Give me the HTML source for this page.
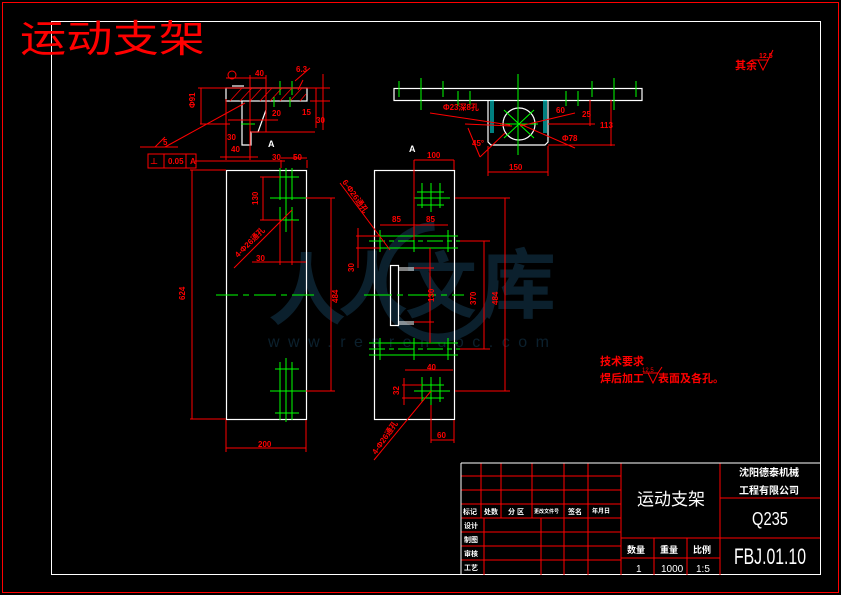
<!DOCTYPE html>
<html><head><meta charset="utf-8"><style>
html,body{margin:0;padding:0;background:#000;}
svg{display:block;}
text{font-family:"Liberation Sans","Noto Sans CJK SC",sans-serif;}
</style></head><body>
<svg width="841" height="595" viewBox="0 0 841 595" xmlns="http://www.w3.org/2000/svg">
<rect width="841" height="595" fill="#000"/>
<!-- watermark -->
<g fill="#17405a" opacity="0.5">
<circle cx="438" cy="282" r="56" fill="none" stroke="#17405a" stroke-width="9" stroke-dasharray="260 90"/>
<text x="268" y="318" font-size="78" font-weight="bold" font-family="'Noto Serif CJK SC',serif">人</text>
<text x="338" y="310" font-size="70" font-weight="bold" font-family="'Noto Serif CJK SC',serif">人</text>
<text x="405" y="312" font-size="72" font-weight="bold" font-family="'Noto Serif CJK SC',serif">文</text>
<text x="480" y="312" font-size="76" font-weight="bold" font-family="'Noto Serif CJK SC',serif">库</text>
<text x="268" y="347" font-size="16" letter-spacing="8.5" font-family="'Liberation Serif',serif">www.renrendoc.com</text>
</g>
<!-- frames -->
<rect x="2.5" y="2.5" width="836" height="590" fill="none" stroke="#f00" stroke-width="1"/>
<rect x="51.5" y="21.5" width="769" height="553" fill="none" stroke="#fff" stroke-width="1"/>
<text x="20" y="52" font-size="38" fill="#f00" font-family="'Noto Sans CJK SC',sans-serif" textLength="185" lengthAdjust="spacingAndGlyphs">运动支架</text>

<!-- title block -->
<g stroke="#f00" stroke-width="1" fill="none">
<line x1="461" y1="476" x2="621" y2="476"/><line x1="461" y1="490" x2="621" y2="490"/>
<line x1="461" y1="504" x2="621" y2="504"/><line x1="461" y1="518" x2="621" y2="518"/>
<line x1="461" y1="532" x2="621" y2="532"/><line x1="461" y1="546" x2="621" y2="546"/>
<line x1="461" y1="560" x2="621" y2="560"/>
<line x1="481" y1="463" x2="481" y2="518"/><line x1="501" y1="463" x2="501" y2="518"/>
<line x1="532" y1="463" x2="532" y2="518"/><line x1="564" y1="463" x2="564" y2="575"/>
<line x1="588" y1="463" x2="588" y2="575"/><line x1="484" y1="518" x2="484" y2="575"/>
<line x1="541" y1="518" x2="541" y2="575"/>
<line x1="621" y1="463" x2="621" y2="575"/><line x1="720" y1="463" x2="720" y2="575"/>
<line x1="720" y1="498" x2="820" y2="498"/><line x1="621" y1="538" x2="820" y2="538"/>
<line x1="621" y1="558" x2="720" y2="558"/>
<line x1="654" y1="538" x2="654" y2="575"/><line x1="687" y1="538" x2="687" y2="575"/>
</g>
<g stroke="#fff" stroke-width="1" fill="none">
<line x1="461" y1="463" x2="820" y2="463"/><line x1="461" y1="463" x2="461" y2="575"/>
</g>
<g fill="#fff" font-size="7" font-weight="bold" font-family="'Noto Sans CJK SC',sans-serif">
<text x="463" y="514">标记</text><text x="484" y="514">处数</text><text x="508" y="514">分 区</text>
<text x="534" y="513" font-size="5">更改文件号</text><text x="568" y="514">签名</text><text x="592" y="513" font-size="6">年月日</text>
<text x="464" y="528">设计</text><text x="464" y="542">制图</text><text x="464" y="556">审核</text><text x="464" y="570">工艺</text>
<text x="627" y="553" font-size="9">数量</text><text x="660" y="553" font-size="9">重量</text><text x="693" y="553" font-size="9">比例</text>
<text x="637" y="505" font-size="17" font-weight="normal">运动支架</text>
<text x="739" y="476" font-size="10">沈阳德泰机械</text>
<text x="739" y="494" font-size="10">工程有限公司</text>
</g>
<g fill="#fff" font-family="'Liberation Serif',serif">
<text x="752" y="525" font-size="18" textLength="36" lengthAdjust="spacingAndGlyphs">Q235</text>
<text x="734" y="564" font-size="22" textLength="72" lengthAdjust="spacingAndGlyphs">FBJ.01.10</text>
<text x="636" y="572" font-size="10">1</text><text x="661" y="572" font-size="10">1000</text><text x="696" y="572" font-size="10">1:5</text>
</g>

<!-- notes -->
<g fill="#f00" font-family="'Noto Sans CJK SC',sans-serif" font-size="11" font-weight="bold">
<text x="600" y="365">技术要求</text>
<text x="600" y="382">焊后加工</text><text x="658" y="382">表面及各孔。</text>
<text x="735" y="69">其余</text>
</g>
<g stroke="#f00" fill="none"><path d="M648 373 l5 10 l5 -10 z M643 373 h10 M658 373 l4 -6"/>
<path d="M758 60 l5 10 l5 -10 z M752 60 h16 M768 60 l5 -10"/></g>
<text x="759" y="58" fill="#f00" font-size="7" font-weight="bold">12.5</text>
<text x="642" y="372" fill="#f00" font-size="6">12.5</text>

<!-- left top section view -->
<g stroke="#fff" fill="none" stroke-width="1.2">
<rect x="226" y="88" width="81" height="13"/>
<path d="M242 101 V145 H251 V132 H258 L266 110 V101"/>
<line x1="232" y1="86" x2="244" y2="86"/>
</g>
<g stroke="#f00" stroke-width="0.8">
<path d="M230 101 l12 -13 M240 101 l12 -13 M250 101 l12 -13 M260 101 l12 -13 M270 101 l12 -13 M280 101 l12 -13 M290 101 l12 -13 M300 101 l6 -7"/>
</g>
<g stroke="#0f0"><line x1="280" y1="81" x2="280" y2="95"/><line x1="292" y1="81" x2="292" y2="95"/><line x1="274" y1="97" x2="274" y2="107"/><line x1="290" y1="97" x2="290" y2="107"/><line x1="241" y1="124" x2="255" y2="124"/></g>
<g stroke="#f00" fill="none" stroke-width="1">
<line x1="198" y1="88" x2="330" y2="88"/><line x1="200" y1="124" x2="230" y2="124"/>
<line x1="201" y1="88" x2="201" y2="124"/><line x1="316" y1="88" x2="316" y2="128"/>
<line x1="323" y1="74" x2="323" y2="130"/><line x1="310" y1="101" x2="330" y2="101"/>
<line x1="226" y1="78" x2="266" y2="78"/><line x1="250" y1="75" x2="250" y2="160"/><line x1="266" y1="75" x2="266" y2="132"/>
<line x1="226" y1="99" x2="226" y2="160"/>
<line x1="228" y1="120" x2="278" y2="120"/><line x1="251" y1="132" x2="315" y2="132"/>
<line x1="220" y1="157" x2="258" y2="157"/><line x1="281" y1="158" x2="307" y2="158"/>
<line x1="195" y1="161" x2="285" y2="161"/><line x1="281" y1="160" x2="281" y2="168"/><line x1="307" y1="160" x2="307" y2="168"/>
<line x1="165" y1="147" x2="245" y2="103"/><line x1="140" y1="147" x2="178" y2="147"/><line x1="155" y1="147" x2="165" y2="137"/>
<line x1="295" y1="81" x2="310" y2="68"/><line x1="303" y1="80" x2="298" y2="90"/>
<rect x="148" y="154" width="48" height="14"/><line x1="164" y1="154" x2="164" y2="168"/><line x1="186" y1="154" x2="186" y2="168"/>
<circle cx="232" cy="75" r="4"/>
</g>
<g fill="#f00" font-size="8" font-weight="bold">
<text x="255" y="76">40</text><text x="296" y="72">6.3</text><text x="272" y="116">20</text><text x="302" y="115">15</text>
<text x="316" y="123">30</text><text x="227" y="140">30</text><text x="231" y="152">40</text><text x="272" y="160">30</text>
<text x="293" y="160">50</text><text x="163" y="145">5</text><text x="168" y="164">0.05</text><text x="150" y="164">⊥</text><text x="190" y="164">A</text>
<text x="195" y="108" transform="rotate(-90 195 108)">Φ91</text>
</g>
<text x="268" y="147" fill="#fff" font-size="9" font-weight="bold">A</text>

<!-- left plate view -->
<rect x="226.5" y="170.5" width="80" height="249" fill="none" stroke="#fff" stroke-width="1.2"/>
<g stroke="#0f0">
<line x1="280" y1="168" x2="280" y2="200"/><line x1="286" y1="168" x2="286" y2="232"/><line x1="292" y1="168" x2="292" y2="200"/>
<line x1="280" y1="207" x2="280" y2="230"/><line x1="292" y1="207" x2="292" y2="230"/>
<line x1="275" y1="177" x2="299" y2="177"/><line x1="270" y1="198" x2="306" y2="198"/><line x1="275" y1="220" x2="299" y2="220"/>
<line x1="280" y1="362" x2="280" y2="420"/><line x1="286" y1="358" x2="286" y2="422"/><line x1="292" y1="362" x2="292" y2="420"/>
<line x1="275" y1="369" x2="299" y2="369"/><line x1="270" y1="391" x2="306" y2="391"/><line x1="275" y1="413" x2="299" y2="413"/>
<line x1="216" y1="295" x2="316" y2="295" stroke-dasharray="22 5 6 5"/>
</g>
<g stroke="#f00" fill="none">
<line x1="190" y1="170" x2="226" y2="170"/><line x1="190" y1="419" x2="226" y2="419"/><line x1="192" y1="170" x2="192" y2="419"/>
<line x1="226" y1="420" x2="226" y2="452"/><line x1="306" y1="420" x2="306" y2="452"/><line x1="226" y1="448" x2="306" y2="448"/>
<line x1="306" y1="198" x2="335" y2="198"/><line x1="306" y1="391" x2="335" y2="391"/><line x1="331" y1="198" x2="331" y2="391"/>
<line x1="260" y1="177" x2="280" y2="177"/><line x1="260" y1="220" x2="280" y2="220"/><line x1="263" y1="177" x2="263" y2="220"/>
<line x1="252" y1="262" x2="306" y2="262"/><line x1="280" y1="220" x2="280" y2="265"/><line x1="292" y1="220" x2="292" y2="265"/>
<line x1="234" y1="268" x2="292" y2="210"/>
</g>
<g fill="#f00" font-size="8" font-weight="bold">
<text x="185" y="300" transform="rotate(-90 185 300)">624</text>
<text x="258" y="447">200</text>
<text x="338" y="303" transform="rotate(-90 338 303)">484</text>
<text x="258" y="205" transform="rotate(-90 258 205)">130</text>
<text x="256" y="261">30</text>
<text x="238" y="258" transform="rotate(-45 238 258)">4-Φ26通孔</text>
</g>

<!-- middle plate view -->
<rect x="374.5" y="170.5" width="80" height="249" fill="none" stroke="#fff" stroke-width="1.2"/>
<rect x="390.5" y="265.5" width="8" height="60" fill="none" stroke="#fff" stroke-width="1.2"/>
<g stroke="#fff"><line x1="399" y1="268" x2="414" y2="268"/><line x1="399" y1="270" x2="414" y2="270"/><line x1="399" y1="322" x2="414" y2="322"/><line x1="399" y1="324" x2="414" y2="324"/></g>
<g stroke="#0f0">
<line x1="369" y1="236" x2="458" y2="236"/><line x1="369" y1="241" x2="460" y2="241" stroke-dasharray="16 4 5 4"/><line x1="369" y1="248" x2="458" y2="248"/>
<line x1="369" y1="343" x2="458" y2="343"/><line x1="369" y1="349" x2="460" y2="349" stroke-dasharray="16 4 5 4"/><line x1="369" y1="355" x2="458" y2="355"/>
<line x1="380" y1="230" x2="380" y2="252"/><line x1="414" y1="230" x2="414" y2="252"/><line x1="448" y1="230" x2="448" y2="252"/>
<line x1="380" y1="338" x2="380" y2="360"/><line x1="414" y1="338" x2="414" y2="360"/><line x1="448" y1="338" x2="448" y2="360"/>
<line x1="364" y1="295" x2="464" y2="295" stroke-dasharray="28 5 6 5"/>
<line x1="422" y1="183" x2="422" y2="208"/><line x1="431" y1="183" x2="431" y2="212"/><line x1="440" y1="183" x2="440" y2="208"/>
<line x1="417" y1="192" x2="444" y2="192"/><line x1="414" y1="198" x2="450" y2="198"/><line x1="417" y1="205" x2="444" y2="205"/>
<line x1="422" y1="377" x2="422" y2="402"/><line x1="431" y1="377" x2="431" y2="405"/><line x1="440" y1="377" x2="440" y2="402"/>
<line x1="417" y1="385" x2="444" y2="385"/><line x1="414" y1="391" x2="450" y2="391"/><line x1="417" y1="398" x2="444" y2="398"/>
</g>
<g stroke="#f00" fill="none">
<line x1="414" y1="160" x2="414" y2="240"/><line x1="454" y1="160" x2="454" y2="170"/><line x1="414" y1="160" x2="454" y2="160"/>
<line x1="380" y1="225" x2="448" y2="225"/><line x1="358" y1="228" x2="358" y2="268"/><line x1="356" y1="236" x2="380" y2="236"/><line x1="356" y1="248" x2="380" y2="248"/>
<line x1="455" y1="198" x2="510" y2="198"/><line x1="455" y1="391" x2="510" y2="391"/><line x1="505" y1="198" x2="505" y2="391"/>
<line x1="460" y1="241" x2="490" y2="241"/><line x1="460" y1="349" x2="490" y2="349"/><line x1="484" y1="241" x2="484" y2="349"/>
<line x1="430" y1="248" x2="430" y2="343"/>
<line x1="414" y1="268" x2="434" y2="268"/><line x1="414" y1="322" x2="434" y2="322"/>
<line x1="405" y1="370" x2="453" y2="370"/><line x1="402" y1="385" x2="422" y2="385"/><line x1="402" y1="398" x2="422" y2="398"/><line x1="404" y1="378" x2="404" y2="405"/>
<line x1="431" y1="405" x2="431" y2="443"/><line x1="454" y1="420" x2="454" y2="443"/><line x1="431" y1="440" x2="454" y2="440"/>
<line x1="340" y1="183" x2="390" y2="250"/><line x1="374" y1="460" x2="431" y2="391"/>
</g>
<g fill="#f00" font-size="8" font-weight="bold">
<text x="427" y="158">100</text><text x="392" y="222">85</text><text x="426" y="222">85</text>
<text x="354" y="272" transform="rotate(-90 354 272)">30</text>
<text x="434" y="302" transform="rotate(-90 434 302)">130</text>
<text x="476" y="305" transform="rotate(-90 476 305)">370</text>
<text x="498" y="305" transform="rotate(-90 498 305)">484</text>
<text x="427" y="370">40</text><text x="399" y="395" transform="rotate(-90 399 395)">32</text><text x="437" y="438">60</text>
<text x="342" y="182" transform="rotate(55 342 182)">6-Φ26通孔</text>
<text x="376" y="455" transform="rotate(-55 376 455)">4-Φ26通孔</text>
</g>
<text x="409" y="152" fill="#fff" font-size="9" font-weight="bold">A</text>

<!-- top right view -->
<g stroke="#fff" fill="none" stroke-width="1.2">
<rect x="394" y="88.5" width="248" height="12"/>
<path d="M488 101 V142 L491 145 H545 L548 142 V101"/>
<circle cx="519" cy="124" r="16"/>
</g>
<g stroke="#0ff"><line x1="491" y1="100" x2="491" y2="133"/><line x1="493" y1="100" x2="493" y2="133"/><line x1="544" y1="100" x2="544" y2="133"/><line x1="546" y1="100" x2="546" y2="133"/></g>
<g stroke="#0f0">
<line x1="399" y1="81" x2="399" y2="97"/><line x1="421" y1="78" x2="421" y2="110"/><line x1="443" y1="81" x2="443" y2="97"/>
<line x1="458" y1="91" x2="458" y2="106"/><line x1="470" y1="91" x2="470" y2="106"/>
<line x1="566" y1="91" x2="566" y2="106"/><line x1="578" y1="91" x2="578" y2="106"/>
<line x1="592" y1="81" x2="592" y2="97"/><line x1="614" y1="78" x2="614" y2="110"/><line x1="636" y1="81" x2="636" y2="97"/>
<line x1="518" y1="74" x2="518" y2="155"/><line x1="500" y1="124" x2="538" y2="124"/>
<line x1="504" y1="110" x2="534" y2="138"/><line x1="534" y1="110" x2="504" y2="138"/>
</g>
<g stroke="#f00" fill="none">
<line x1="430" y1="113" x2="510" y2="125"/><line x1="465" y1="124" x2="512" y2="126"/><line x1="520" y1="126" x2="575" y2="113"/>
<line x1="520" y1="124" x2="575" y2="148"/><line x1="548" y1="124" x2="595" y2="124"/><line x1="590" y1="100" x2="590" y2="126"/>
<line x1="548" y1="145" x2="615" y2="145"/><line x1="611" y1="100" x2="611" y2="146"/>
<line x1="488" y1="146" x2="488" y2="176"/><line x1="548" y1="146" x2="548" y2="176"/><line x1="488" y1="172" x2="548" y2="172"/>
<line x1="468" y1="128" x2="480" y2="157"/><line x1="480" y1="157" x2="505" y2="133"/>
</g>
<g fill="#f00" font-size="8" font-weight="bold">
<text x="443" y="110">Φ23深8孔</text><text x="556" y="113">60</text><text x="582" y="117">25</text>
<text x="600" y="128">113</text><text x="562" y="141">Φ78</text><text x="509" y="170">150</text><text x="472" y="146">45°</text>
</g>
</svg>
</body></html>
